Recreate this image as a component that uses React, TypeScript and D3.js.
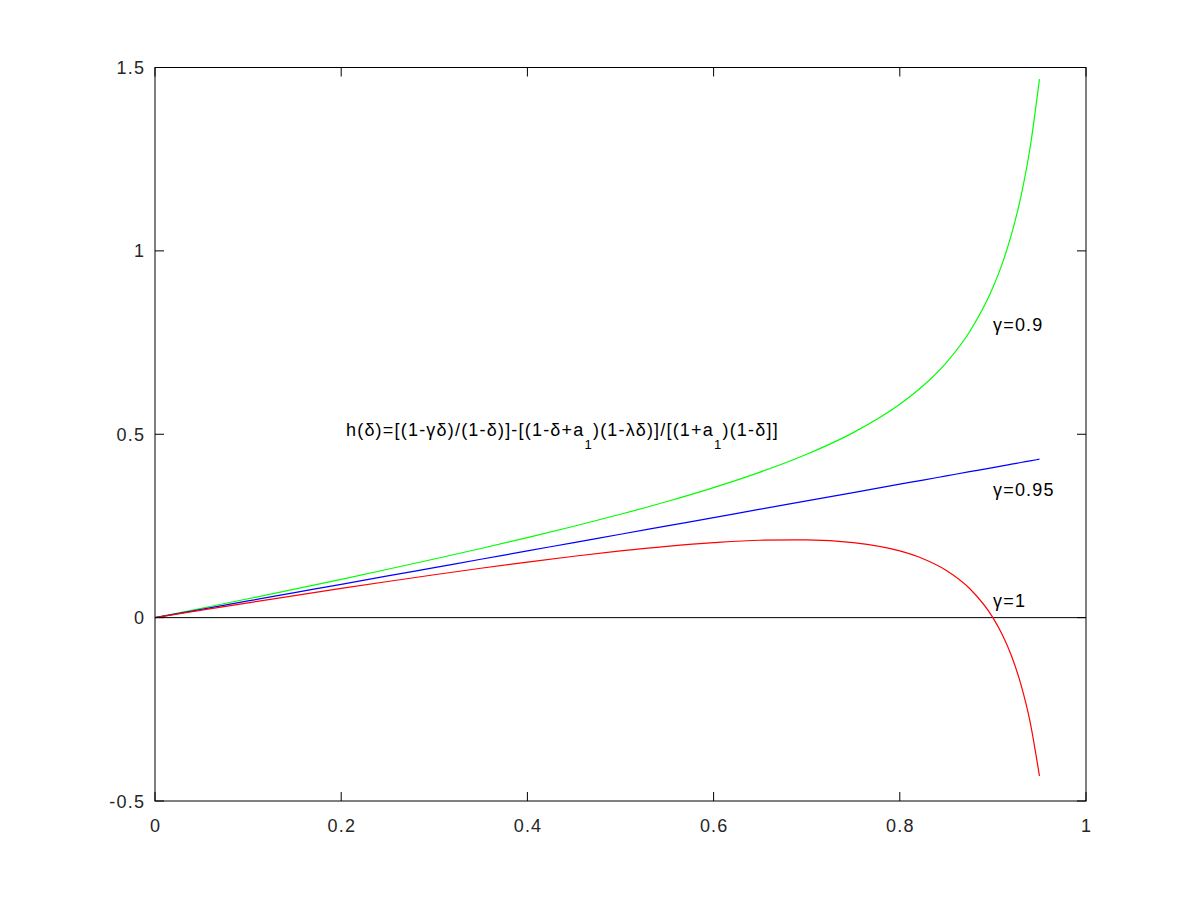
import React from "react";
import * as d3 from "d3";

const deltaGrid = [0, 0.05, 0.1, 0.15, 0.2, 0.25, 0.3, 0.35, 0.4, 0.45, 0.5, 0.55, 0.6, 0.65, 0.7, 0.75, 0.8, 0.825, 0.85, 0.875, 0.9, 0.91, 0.92, 0.93, 0.94, 0.95];
const greenValues = [0, 0.0256, 0.0515, 0.0778, 0.1045, 0.1318, 0.1598, 0.1885, 0.2182, 0.2491, 0.2818, 0.3166, 0.3545, 0.3967, 0.4454, 0.5045, 0.5818, 0.6321, 0.6955, 0.7795, 0.9, 0.9651, 1.0455, 1.1474, 1.2819, 1.4682];
const blueValues = [0, 0.0227, 0.0455, 0.0682, 0.0909, 0.1137, 0.1364, 0.1591, 0.1819, 0.2046, 0.2274, 0.2501, 0.2728, 0.2956, 0.3183, 0.341, 0.3638, 0.3751, 0.3865, 0.3979, 0.4092, 0.4138, 0.4183, 0.4229, 0.4274, 0.432];
const redValues = [0, 0.0203, 0.0404, 0.0602, 0.0795, 0.0985, 0.1169, 0.1346, 0.1515, 0.1673, 0.1818, 0.1944, 0.2045, 0.211, 0.2121, 0.2045, 0.1818, 0.1607, 0.1288, 0.0795, 0, -0.046, -0.1045, -0.1812, -0.2848, -0.4318];

const xTicks = [0, 0.2, 0.4, 0.6, 0.8, 1];
const xTickLabels = ["0", "0.2", "0.4", "0.6", "0.8", "1"];
const yTicks = [-0.5, 0, 0.5, 1, 1.5];
const yTickLabels = ["-0.5", "0", "0.5", "1", "1.5"];

const seriesLabels = ["γ=0.9", "γ=0.95", "γ=1"];

export default function App() {
  const W = 1200, H = 900;
  const left = 155, right = 1086, top = 67.5, bottom = 801;
  const x = d3.scaleLinear().domain([0, 1]).range([left, right]);
  const y = d3.scaleLinear().domain([-0.5, 1.5]).range([bottom, top]);
  const line = (vals: number[]) =>
    d3.line<number>().x((_, i) => x(deltaGrid[i])).y((v) => y(v)).curve(d3.curveMonotoneX)(vals) || "";
  const font = "'Liberation Sans', Arial, Helvetica, sans-serif";
  const tickLen = 9;
  const ls = 1.2;
  const fs = 18;
  return (
    <svg width={W} height={H} style={{ position: "absolute", left: 0, top: 0, background: "#fff" }} fontFamily={font}>
      <rect x={0} y={0} width={W} height={H} fill="#fff" />
      <line x1={left} x2={right} y1={y(0)} y2={y(0)} stroke="#000" strokeWidth={1} />
      <path d={line(greenValues)} fill="none" stroke="#00ff00" strokeWidth={1.2} />
      <path d={line(blueValues)} fill="none" stroke="#0000ff" strokeWidth={1.2} />
      <path d={line(redValues)} fill="none" stroke="#ff0000" strokeWidth={1.2} />
      <rect x={left} y={top} width={right - left} height={bottom - top} fill="none" stroke="#000" strokeWidth={1} />
      {xTicks.map((t, i) => (
        <g key={"x" + i}>
          <line x1={x(t)} x2={x(t)} y1={bottom} y2={bottom - tickLen} stroke="#000" />
          <line x1={x(t)} x2={x(t)} y1={top} y2={top + tickLen} stroke="#000" />
          <text x={x(t) + ls / 2} y={832} fontSize={fs} letterSpacing={ls} textAnchor="middle" fill="#262626">{xTickLabels[i]}</text>
        </g>
      ))}
      {yTicks.map((t, i) => (
        <g key={"y" + i}>
          <line x1={left} x2={left + tickLen} y1={y(t)} y2={y(t)} stroke="#000" />
          <line x1={right} x2={right - tickLen} y1={y(t)} y2={y(t)} stroke="#000" />
          <text x={144 + ls} y={y(t) + 6.5} fontSize={fs} letterSpacing={ls} textAnchor="end" fill="#262626">{yTickLabels[i]}</text>
        </g>
      ))}
      <text x={993} y={331} fontSize={fs} letterSpacing={ls} fill="#000">{seriesLabels[0]}</text>
      <text x={993} y={496} fontSize={fs} letterSpacing={ls} fill="#000">{seriesLabels[1]}</text>
      <text x={993} y={607} fontSize={fs} letterSpacing={ls} fill="#000">{seriesLabels[2]}</text>
      <text x={346} y={436} fontSize={fs} letterSpacing={ls} fill="#000">
        <tspan>h(δ)=[(1-γδ)/(1-δ)]-[(1-δ+a</tspan>
        <tspan dy={13} fontSize={13}>1</tspan>
        <tspan dy={-13}>)(1-λδ)]/[(1+a</tspan>
        <tspan dy={13} fontSize={13}>1</tspan>
        <tspan dy={-13}>)(1-δ]]</tspan>
      </text>
    </svg>
  );
}
